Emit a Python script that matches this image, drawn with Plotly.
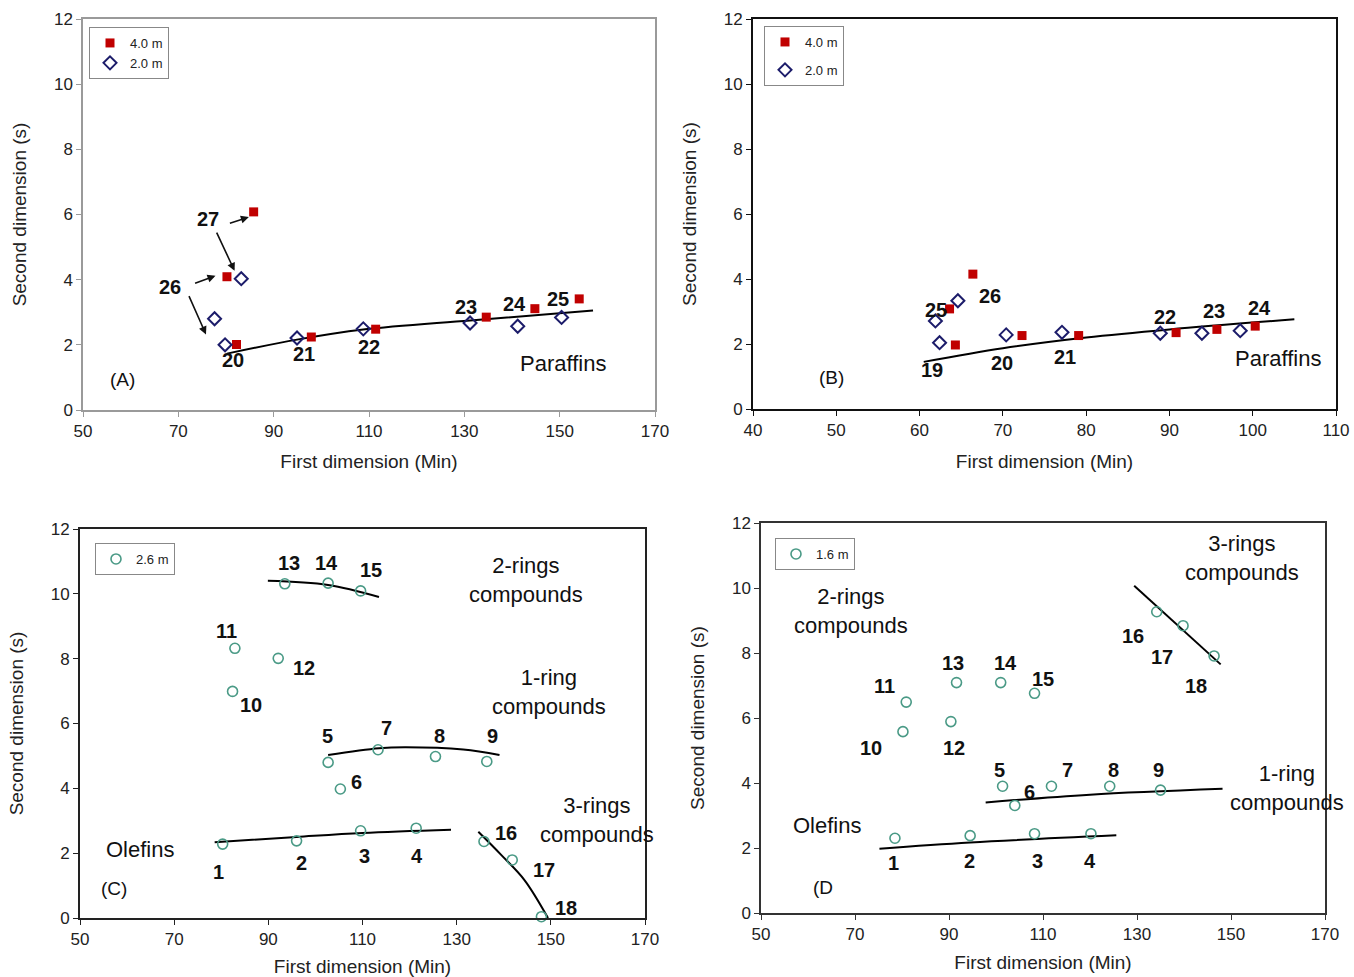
import plotly.graph_objects as go

# ---------------- Panel A (4.0 m vs 2.0 m) ----------------
A_red_x = [85.8, 80.2, 82.2, 97.9, 111.4, 134.6, 144.8, 154.1]
A_red_y = [6.08, 4.09, 2.01, 2.24, 2.48, 2.85, 3.11, 3.41]
A_dia_x = [83.2, 77.6, 79.8, 94.9, 108.8, 131.2, 141.2, 150.4]
A_dia_y = [4.03, 2.80, 2.00, 2.21, 2.49, 2.67, 2.57, 2.84]
A_fit_x = [80.2, 94.9, 108.8, 131.2, 157.0]
A_fit_y = [1.73, 2.16, 2.47, 2.75, 3.05]

# ---------------- Panel B (4.0 m vs 2.0 m) ----------------
B_red_x = [66.4, 63.6, 64.3, 72.3, 79.1, 90.8, 95.7, 100.3]
B_red_y = [4.15, 3.08, 1.97, 2.26, 2.26, 2.35, 2.45, 2.55]
B_dia_x = [64.6, 61.9, 62.4, 70.4, 77.1, 88.9, 93.9, 98.5]
B_dia_y = [3.33, 2.71, 2.04, 2.28, 2.36, 2.33, 2.33, 2.41]
B_fit_x = [60.5, 70.0, 80.0, 90.0, 105.0]
B_fit_y = [1.45, 1.87, 2.20, 2.45, 2.76]

# ---------------- Panel C (2.6 m) ----------------
C_x = [80.3, 96.0, 109.6, 121.4, 102.7, 105.3, 113.3, 125.5, 136.4,
       82.4, 82.9, 92.1, 93.5, 102.7, 109.6, 135.8, 141.8, 148.0]
C_y = [2.28, 2.38, 2.69, 2.77, 4.80, 3.98, 5.19, 4.98, 4.83,
       6.99, 8.32, 8.01, 10.31, 10.33, 10.09, 2.36, 1.79, 0.04]
C_ole_x = [78.6, 96.0, 110.0, 128.8]
C_ole_y = [2.34, 2.50, 2.62, 2.72]
C_one_x = [102.7, 113.5, 119.2, 131.4, 139.1]
C_one_y = [5.03, 5.24, 5.27, 5.20, 5.03]
C_two_x = [89.9, 102.7, 113.5]
C_two_y = [10.40, 10.27, 9.90]
C_three_x = [134.6, 139.5, 144.4, 149.4]
C_three_y = [2.66, 1.94, 1.17, 0.0]

# ---------------- Panel D (1.6 m) ----------------
D_x = [78.5, 94.5, 108.2, 120.2, 101.4, 104.0, 111.8, 124.2, 135.0,
       80.2, 80.9, 90.4, 91.6, 101.0, 108.2, 134.2, 139.8, 146.4]
D_y = [2.30, 2.38, 2.44, 2.44, 3.90, 3.31, 3.90, 3.90, 3.78,
       5.58, 6.49, 5.89, 7.09, 7.09, 6.76, 9.27, 8.84, 7.91]
D_ole_x = [75.2, 94.5, 125.6]
D_ole_y = [1.98, 2.17, 2.39]
D_one_x = [97.8, 120.0, 148.2]
D_one_y = [3.40, 3.64, 3.82]
D_three_x = [129.4, 147.8]
D_three_y = [10.07, 7.65]

RED = "#C00000"
NAVY = "#1C1C6A"
TEAL = "#4A9A86"
FONT = "Liberation Sans, Arial, sans-serif"

fig = go.Figure()


def fit(x, y, xa, ya):
    fig.add_trace(go.Scatter(x=x, y=y, mode="lines", line=dict(color="black", width=2, shape="spline"),
                             xaxis=xa, yaxis=ya, showlegend=False, hoverinfo="skip"))


# Panel A
fit(A_fit_x, A_fit_y, "x", "y")
fig.add_trace(go.Scatter(x=A_red_x, y=A_red_y, mode="markers", name="4.0 m",
                         marker=dict(symbol="square", size=9, color=RED), xaxis="x", yaxis="y", legend="legend"))
fig.add_trace(go.Scatter(x=A_dia_x, y=A_dia_y, mode="markers", name="2.0 m",
                         marker=dict(symbol="diamond-open", size=10, color=NAVY, line=dict(width=2)),
                         xaxis="x", yaxis="y", legend="legend"))
# Panel B
fit(B_fit_x, B_fit_y, "x2", "y2")
fig.add_trace(go.Scatter(x=B_red_x, y=B_red_y, mode="markers", name="4.0 m", legendgroup="b1",
                         marker=dict(symbol="square", size=9, color=RED), xaxis="x2", yaxis="y2", legend="legend2"))
fig.add_trace(go.Scatter(x=B_dia_x, y=B_dia_y, mode="markers", name="2.0 m", legendgroup="b2",
                         marker=dict(symbol="diamond-open", size=10, color=NAVY, line=dict(width=2)),
                         xaxis="x2", yaxis="y2", legend="legend2"))
# Panel C
for lx, ly in [(C_ole_x, C_ole_y), (C_one_x, C_one_y), (C_two_x, C_two_y), (C_three_x, C_three_y)]:
    fit(lx, ly, "x3", "y3")
fig.add_trace(go.Scatter(x=C_x, y=C_y, mode="markers", name="2.6 m",
                         marker=dict(symbol="circle-open", size=10, color=TEAL, line=dict(width=1.6)),
                         xaxis="x3", yaxis="y3", legend="legend3", cliponaxis=False))
# Panel D
for lx, ly in [(D_ole_x, D_ole_y), (D_one_x, D_one_y), (D_three_x, D_three_y)]:
    fit(lx, ly, "x4", "y4")
fig.add_trace(go.Scatter(x=D_x, y=D_y, mode="markers", name="1.6 m",
                         marker=dict(symbol="circle-open", size=10, color=TEAL, line=dict(width=1.6)),
                         xaxis="x4", yaxis="y4", legend="legend4"))

W, H = 1354, 977


def px_dom_x(a, b):
    return [a / W, b / W]


def px_dom_y(top, bottom):
    return [1 - bottom / H, 1 - top / H]


def axis(dom, rng, dtick, color, lw, title, anchor, standoff):
    return dict(domain=dom, range=rng, dtick=dtick, tick0=rng[0], showgrid=False, zeroline=False,
                showline=True, linecolor=color, linewidth=lw, mirror=True, automargin=False,
                ticks="outside", ticklen=5, tickcolor=color, tickwidth=1,
                tickfont=dict(size=17, color="#222", family=FONT),
                title=dict(text=title, font=dict(size=19, color="#222", family=FONT), standoff=standoff),
                anchor=anchor)


XT = "First dimension (Min)"
YT = "Second dimension (s)"
layout = dict(
    width=W, height=H, margin=dict(l=0, r=0, t=0, b=0, autoexpand=False),
    plot_bgcolor="white", paper_bgcolor="white",
    font=dict(family=FONT, color="#111"),
    xaxis=axis(px_dom_x(83, 655), [50, 170], 20, "#9a9a9a", 1.5, XT, "y", 15),
    yaxis=axis(px_dom_y(19, 410), [0, 12], 2, "#9a9a9a", 1.5, YT, "x", 22),
    xaxis2=axis(px_dom_x(753, 1336), [40, 110], 10, "#111", 2, XT, "y2", 15),
    yaxis2=axis(px_dom_y(19, 409), [0, 12], 2, "#111", 2, YT, "x2", 22),
    xaxis3=axis(px_dom_x(80, 645), [50, 170], 20, "#222", 2, XT, "y3", 13),
    yaxis3=axis(px_dom_y(529, 918), [0, 12], 2, "#222", 2, YT, "x3", 22),
    xaxis4=axis(px_dom_x(761, 1325), [50, 170], 20, "#333", 1.5, XT, "y4", 13),
    yaxis4=axis(px_dom_y(523, 913), [0, 12], 2, "#333", 1.5, YT, "x4", 22),
)


def leg(xp, yp, gap=0):
    return dict(x=xp / W, y=1 - yp / H, xanchor="left", yanchor="top", bgcolor="white",
                bordercolor="#888", borderwidth=1, font=dict(size=13, color="#222", family=FONT),
                itemwidth=30, tracegroupgap=gap)


layout["legend"] = leg(89, 27)
layout["legend2"] = leg(764, 26, 8)
layout["legend3"] = leg(95, 543)
layout["legend4"] = leg(775, 538)
fig.update_layout(**layout)

NUM = dict(size=20, color="#111", family=FONT)

labels = {
    ("x", "y"): [("27", 76.2, 5.85), ("26", 68.3, 3.76), ("20", 81.4, 1.53), ("21", 96.3, 1.71),
                 ("22", 110.0, 1.93), ("23", 130.4, 3.17), ("24", 140.6, 3.26), ("25", 149.7, 3.41)],
    ("x2", "y2"): [("19", 61.5, 1.2), ("20", 69.9, 1.4), ("21", 77.5, 1.61), ("22", 89.5, 2.84),
                   ("23", 95.4, 3.0), ("24", 100.8, 3.1), ("25", 62.0, 3.05), ("26", 68.5, 3.48)],
    ("x3", "y3"): [("13", 94.3, 10.95), ("14", 102.3, 10.95), ("15", 111.8, 10.72), ("11", 81.2, 8.84),
                   ("12", 97.6, 7.71), ("10", 86.4, 6.57), ("5", 102.5, 5.6), ("7", 115.1, 5.85),
                   ("8", 126.3, 5.6), ("9", 137.6, 5.6), ("6", 108.7, 4.19), ("16", 140.5, 2.61),
                   ("17", 148.6, 1.48), ("18", 153.3, 0.3), ("1", 79.5, 1.43), ("2", 97.0, 1.69),
                   ("3", 110.4, 1.92), ("4", 121.6, 1.92)],
    ("x4", "y4"): [("16", 129.2, 8.53), ("17", 135.4, 7.89), ("18", 142.6, 6.98), ("13", 90.8, 7.69),
                   ("14", 102.0, 7.69), ("15", 110.0, 7.21), ("11", 76.2, 6.98), ("10", 73.4, 5.08),
                   ("12", 91.0, 5.08), ("5", 100.8, 4.39), ("7", 115.2, 4.39), ("8", 125.0, 4.39),
                   ("9", 134.6, 4.39), ("6", 107.2, 3.71), ("1", 78.2, 1.55), ("2", 94.4, 1.61),
                   ("3", 108.8, 1.61), ("4", 120.0, 1.61)],
}
groups = {
    ("x", "y"): [("Paraffins", 150.7, 1.42, 22), ("(A)", 58.2, 0.94, 19)],
    ("x2", "y2"): [("Paraffins", 103.0, 1.56, 22), ("(B)", 49.4, 0.98, 19)],
    ("x3", "y3"): [("2-rings<br>compounds", 144.8, 10.42, 22), ("1-ring<br>compounds", 149.7, 6.98, 22),
                   ("3-rings<br>compounds", 159.8, 3.02, 22), ("Olefins", 62.8, 2.10, 22), ("(C)", 57.3, 0.92, 19)],
    ("x4", "y4"): [("2-rings<br>compounds", 69.2, 9.28, 22), ("3-rings<br>compounds", 152.4, 10.93, 22),
                   ("1-ring<br>compounds", 162.0, 3.86, 22), ("Olefins", 64.0, 2.69, 22), ("(D", 63.2, 0.78, 19)],
}

ann = []
for (xr, yr), items in labels.items():
    for t, x, y in items:
        ann.append(dict(text="<b>" + t + "</b>", x=x, y=y, xref=xr, yref=yr, showarrow=False, font=NUM))
for (xr, yr), items in groups.items():
    for t, x, y, s in items:
        ann.append(dict(text=t, x=x, y=y, xref=xr, yref=yr, showarrow=False,
                        font=dict(size=s, color="#111", family=FONT), align="center"))

# arrows in panel A (head, tail)
arrows = [((84.8, 5.92), (80.5, 5.72)), ((81.8, 4.27), (77.9, 5.49)),
          ((77.8, 4.12), (73.2, 3.87)), ((75.8, 2.32), (72.1, 3.54))]
for (hx, hy), (tx, ty) in arrows:
    ann.append(dict(x=hx, y=hy, ax=tx, ay=ty, xref="x", yref="y", axref="x", ayref="y",
                    text="", showarrow=True, arrowhead=2, arrowsize=1, arrowwidth=1.6, arrowcolor="#111"))

fig.update_layout(annotations=ann)
# remove the default page margin so the 1354x977 figure fills the window exactly
fig.write_html("out.html", config={"displayModeBar": False},
               post_script="document.body.style.margin='0';document.body.style.overflow='hidden';")
